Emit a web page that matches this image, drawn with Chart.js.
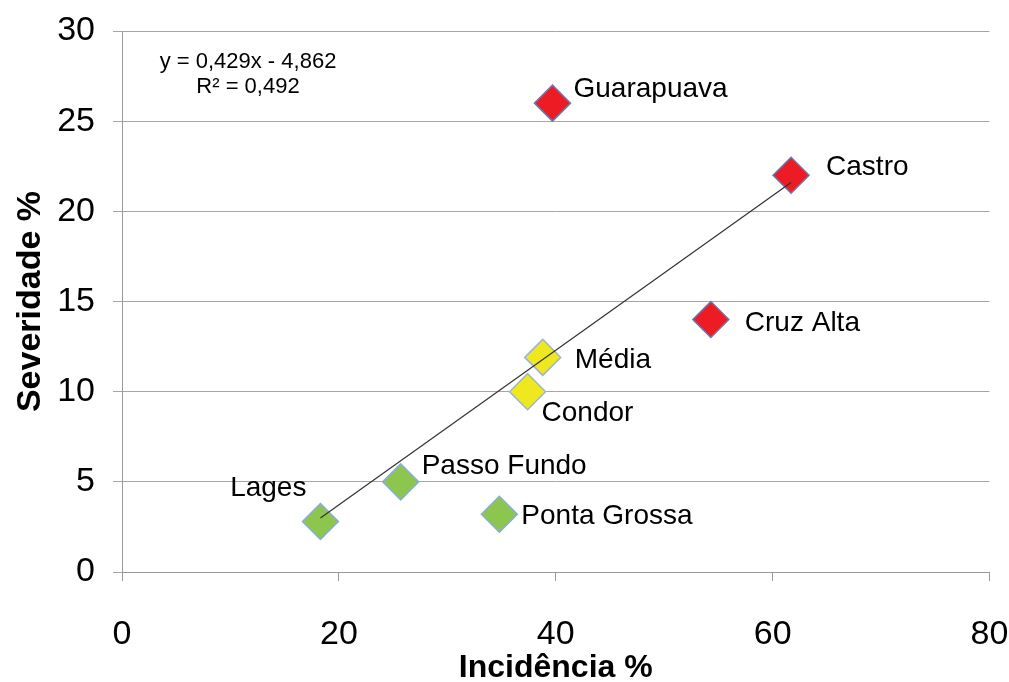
<!DOCTYPE html>
<html>
<head>
<meta charset="utf-8">
<script src="https://cdn.jsdelivr.net/npm/chart.js@4"></script>
<style>
  html, body { margin: 0; padding: 0; background: #fff; }
  #wrap { width: 1009px; height: 682px; }
</style>
</head>
<body>
<div id="wrap"><canvas id="chart" width="1009" height="682"></canvas></div>
<script>
// locations
const places = ['Guarapuava', 'Castro', 'Cruz Alta', 'Média', 'Condor', 'Passo Fundo', 'Ponta Grossa', 'Lages']
const incidencia = [39.7, 61.7, 54.3, 38.8, 37.4, 25.7, 34.8, 18.3]
const severidade = [26.0, 22.0, 14.0, 11.9, 10.0, 5.0, 3.2, 2.8]
const groups = ['high', 'high', 'high', 'mid', 'mid', 'low', 'low', 'low']

// trend line ends
const trendX = [18.3, 61.7]
const trendY = [3.0, 21.6]

const xTicks = [0, 20, 40, 60, 80]
const yTicks = [0, 5, 10, 15, 20, 25, 30]

const fillFor = { high: '#ED1C24', mid: '#EFE81E', low: '#8DC64E' }
const edgeFor = { high: '#7474A8', mid: '#9FB7C9', low: '#86AED6' }

// where each name sits next to its marker (dx, dy, align)
const labelPos = {
    'Guarapuava': [21, -14, 'left'],
    'Castro': [35, -8, 'left'],
    'Cruz Alta': [34, 4, 'left'],
    'Média': [32, 3, 'left'],
    'Condor': [14, 22, 'left'],
    'Passo Fundo': [21, -16, 'left'],
    'Ponta Grossa': [22, 2, 'left'],
    'Lages': [-14, -33, 'right']
}

const FONT = "'Liberation Sans', Arial, sans-serif"

const pointLabels = {
    id: 'pointLabels',
    afterDatasetsDraw(chart) {
        const meta = chart.getDatasetMeta(1)
        const ctx = chart.ctx
        ctx.save()
        ctx.font = '28px ' + FONT
        ctx.fillStyle = '#000'
        ctx.textBaseline = 'middle'
        meta.data.forEach((pt, i) => {
            const p = labelPos[places[i]]
            ctx.textAlign = p[2]
            ctx.fillText(places[i], pt.x + p[0], pt.y + p[1])
        })
        // equation box
        ctx.font = '22px ' + FONT
        ctx.textAlign = 'center'
        ctx.fillText('y = 0,429x - 4,862', 248, 62)
        ctx.fillText('R² = 0,492', 248, 87)
        ctx.restore()
    }
}

const data = {
    datasets: [
        {
            type: 'line',
            label: 'tendência',
            data: trendX.map((x, i) => ({ x: x, y: trendY[i] })),
            borderColor: '#333',
            borderWidth: 1.2,
            pointRadius: 0,
            fill: false,
            order: 0
        },
        {
            type: 'scatter',
            label: 'locais',
            data: incidencia.map((x, i) => ({ x: x, y: severidade[i] })),
            pointStyle: 'rectRot',
            pointRadius: 18,
            pointHoverRadius: 18,
            pointBackgroundColor: groups.map(g => fillFor[g]),
            pointBorderColor: groups.map(g => edgeFor[g]),
            pointBorderWidth: 1.5,
            order: 1
        }
    ]
}

new Chart(document.getElementById('chart'), {
    type: 'scatter',
    data: data,
    plugins: [pointLabels],
    options: {
        responsive: false,
        animation: false,
        events: [],
        layout: { padding: { top: 31, right: 19, left: 0, bottom: 0 } },
        plugins: {
            legend: { display: false },
            tooltip: { enabled: false }
        },
        scales: {
            x: {
                type: 'linear',
                min: 0, max: 80,
                afterBuildTicks: s => { s.ticks = xTicks.map(v => ({ value: v })) },
                afterFit: s => { s.height = 110; s.paddingLeft = 0; s.paddingRight = 0 },
                grid: { drawOnChartArea: false, color: '#999', tickLength: 9 },
                border: { color: '#999', width: 1 },
                ticks: { color: '#000', font: { family: FONT, size: 34 }, padding: 33, maxRotation: 0 },
                title: {
                    display: true, text: 'Incidência %', color: '#000',
                    font: { family: FONT, size: 32, weight: 'bold' }, padding: { top: 0, bottom: -5 }
                }
            },
            y: {
                type: 'linear',
                min: 0, max: 30,
                afterBuildTicks: s => { s.ticks = yTicks.map(v => ({ value: v })) },
                afterFit: s => { s.width = 122; s.paddingTop = 0; s.paddingBottom = 0 },
                grid: { color: '#A6A6A6', tickLength: 9 },
                border: { color: '#999', width: 1 },
                ticks: { color: '#000', font: { family: FONT, size: 34 }, padding: 18 },
                title: {
                    display: true, text: 'Severidade %', color: '#000',
                    font: { family: FONT, size: 34, weight: 'bold' }, padding: { top: 10, bottom: 0 }
                }
            }
        }
    }
})
</script>
</body>
</html>
